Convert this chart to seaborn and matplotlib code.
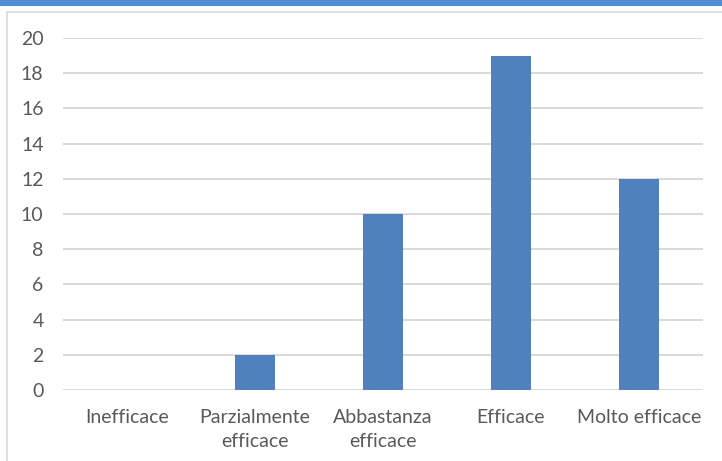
import matplotlib
matplotlib.use("Agg")
import matplotlib.pyplot as plt
import seaborn as sns
import pandas as pd
from matplotlib.patches import Rectangle

categorie = ["Inefficace", "Parzialmente\nefficace", "Abbastanza\nefficace", "Efficace", "Molto efficace"]
valori = [0, 2, 10, 19, 12]
yticks = [0, 2, 4, 6, 8, 10, 12, 14, 16, 18, 20]

df = pd.DataFrame({"categoria": categorie, "valore": valori})

sns.set_style("white")
plt.rcParams["font.family"] = ["Lato", "DejaVu Sans"]

W, H = 722, 461
fig = plt.figure(figsize=(W / 100, H / 100), dpi=100)

# blue strip on top and thin frame of the chart area
fig.patches.append(Rectangle((0, 1 - 6 / H), 1, 6 / H, transform=fig.transFigure,
                             facecolor="#4f8fd6", edgecolor="none", zorder=-2))
fig.patches.append(Rectangle((6.5 / W, -0.1), 1.2, 1 - 12.5 / H + 0.1, transform=fig.transFigure,
                             facecolor="white", edgecolor="#d9d9d9", linewidth=1.2, zorder=-1))

ax = fig.add_axes([63 / W, 1 - 390 / H, 640 / W, 352 / H])
sns.barplot(data=df, x="categoria", y="valore", color="#4f81bd", width=0.31,
            saturation=1, linewidth=0, ax=ax, zorder=3)

ax.set_ylim(0, 20)
ax.set_yticks(yticks)
ax.set_xlim(-0.5, 4.5)
ax.grid(axis="y", color="#d9d9d9", linewidth=1.4, zorder=0)
ax.grid(axis="x", visible=False)
for s in ax.spines.values():
    s.set_visible(False)
ax.set_xlabel("")
ax.set_ylabel("")
ax.tick_params(axis="y", length=0, pad=14, labelsize=14, labelcolor="#595959")
ax.tick_params(axis="x", length=0, pad=14, labelsize=14, labelcolor="#595959")
for t in ax.get_xticklabels():
    t.set_linespacing(1.45)
ax.patch.set_alpha(0)

fig.savefig("out.png", dpi=100)
